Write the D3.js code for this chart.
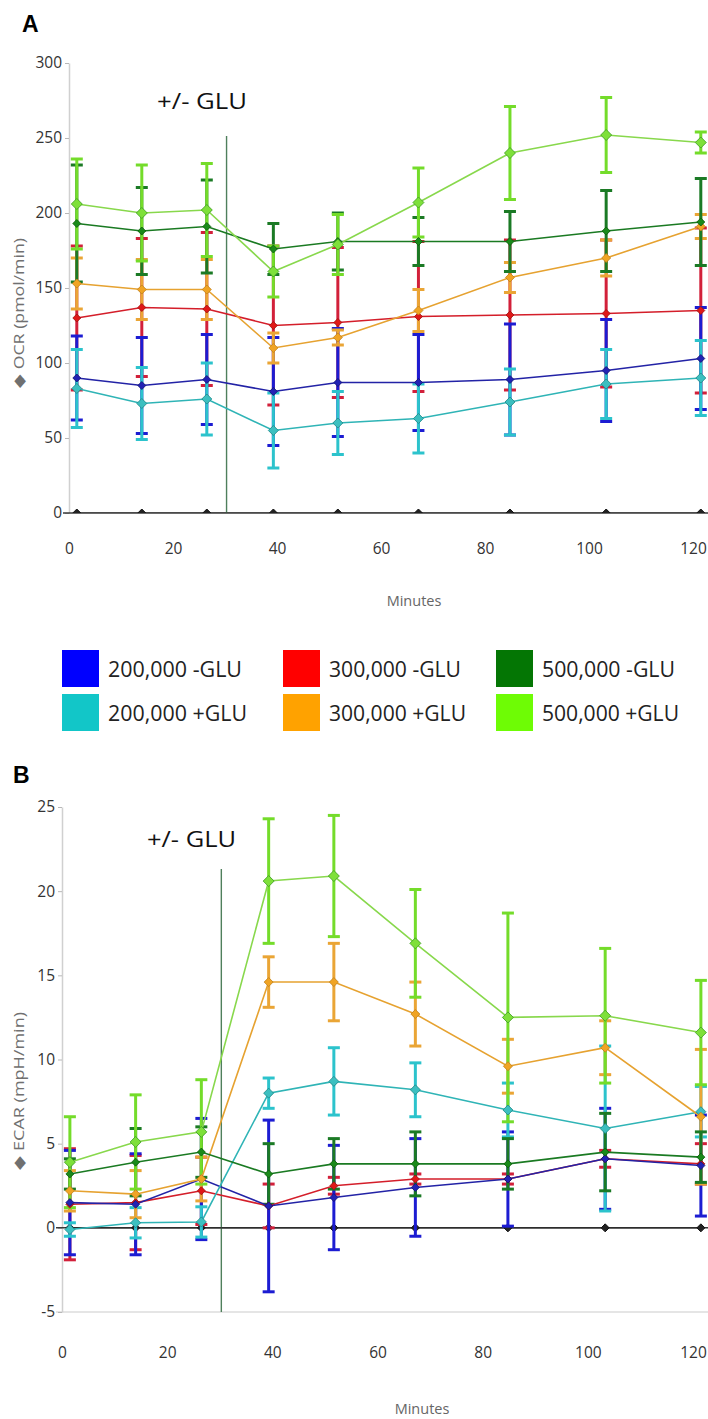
<!DOCTYPE html>
<html>
<head>
<meta charset="utf-8">
<script src="https://cdn.jsdelivr.net/npm/d3@7"></script>
<style>
  html, body { margin: 0; padding: 0; background: #fff; }
  svg { display: block; }
</style>
</head>
<body>
<script>
// ---------------- DATA ----------------
const timePoints = [1.5, 14, 26.5, 39.3, 51.7, 67.2, 84.8, 103.3, 121.5];
const injectionTime = 30.3;

const seriesNames = ["200,000 -GLU", "200,000 +GLU", "300,000 -GLU", "300,000 +GLU", "500,000 -GLU", "500,000 +GLU"];

// OCR (pmol/min) means and error half-widths
const ocr200Minus = [90, 85, 89, 81, 87, 87, 89, 95, 103];
const ocr200MinusErr = [28, 32, 30, 36, 36, 32, 37, 34, 34];
const ocr200Plus = [83, 73, 76, 55, 60, 63, 74, 86, 90];
const ocr200PlusErr = [26, 24, 24, 25, 21, 23, 22, 23, 25];
const ocr300Minus = [130, 137, 136, 125, 127, 131, 132, 133, 135];
const ocr300MinusErr = [48, 46, 51, 53, 50, 50, 50, 49, 55];
const ocr300Plus = [153, 149, 149, 110, 117, 135, 157, 170, 191];
const ocr300PlusErr = [17, 20, 20, 10, 5, 14, 10, 12, 8];
const ocr500Minus = [193, 188, 191, 176, 181, 181, 181, 188, 194];
const ocr500MinusErr = [39, 29, 31, 17, 19, 16, 20, 27, 29];
const ocr500Plus = [206, 200, 202, 161, 179, 207, 240, 252, 247];
const ocr500PlusErr = [30, 32, 31, 17, 20, 23, 31, 25, 7];
const ocrBackground = [0, 0, 0, 0, 0, 0, 0, 0, 0];

// ECAR (mpH/min) means and error half-widths
const ecar200Minus = [1.5, 1.4, 2.9, 1.3, 1.8, 2.4, 2.9, 4.1, 3.7];
const ecar200MinusErr = [3.1, 3.0, 3.6, 5.1, 3.1, 2.9, 2.8, 3.0, 3.0];
const ecar200Plus = [-0.1, 0.3, 0.35, 8.0, 8.7, 8.2, 7.0, 5.9, 6.9];
const ecar200PlusErr = [0.4, 0.9, 0.9, 0.9, 2.0, 1.6, 1.6, 4.9, 1.5];
const ecar300Minus = [1.4, 1.5, 2.2, 1.3, 2.5, 2.9, 2.9, 4.1, 3.8];
const ecar300MinusErr = [3.3, 2.8, 2.0, 1.3, 0.5, 0.3, 0.3, 0.5, 1.2];
const ecar300Plus = [2.2, 2.0, 2.9, 14.6, 14.6, 12.7, 9.6, 10.7, 6.6];
const ecar300PlusErr = [1.2, 1.4, 1.3, 1.5, 2.3, 1.9, 1.6, 1.6, 4.0];
const ecar500Minus = [3.2, 3.9, 4.5, 3.2, 3.8, 3.8, 3.8, 4.5, 4.2];
const ecar500MinusErr = [0.9, 2.0, 1.5, 1.8, 1.5, 1.9, 1.5, 2.3, 1.5];
const ecar500Plus = [3.9, 5.1, 5.7, 20.6, 20.9, 16.9, 12.5, 12.6, 11.6];
const ecar500PlusErr = [2.7, 2.8, 3.1, 3.7, 3.6, 3.2, 6.2, 4.0, 3.1];
const ecarBackground = [0, 0, 0, 0, 0, 0, 0, 0, 0];

const xTicks = [0, 20, 40, 60, 80, 100, 120];
const ocrTicks = [0, 50, 100, 150, 200, 250, 300];
const ecarTicks = [-5, 0, 5, 10, 15, 20, 25];

// ---------------- STYLES ----------------
const styles = [
  { legend: "#0000ff", line: "#2323a6", err: "#1c1cd2", fill: "#2222b4", stroke: "#10106e", r: 4 },
  { legend: "#12c6c8", line: "#2fb4b6", err: "#2cc3cc", fill: "#3cbfc0", stroke: "#1a8686", r: 5 },
  { legend: "#ff0000", line: "#d41e2a", err: "#d2203a", fill: "#e01818", stroke: "#9a1010", r: 4 },
  { legend: "#ffa200", line: "#e6a230", err: "#eaa535", fill: "#f0a424", stroke: "#c0801c", r: 4.5 },
  { legend: "#047604", line: "#1a7a22", err: "#1b7a25", fill: "#1a8a1a", stroke: "#0a5a0a", r: 4 },
  { legend: "#6efc05", line: "#88d84c", err: "#74dc2a", fill: "#7ee03a", stroke: "#3a9a20", r: 5.5 }
];

const W = 708, H = 1419;
const svg = d3.select("body").append("svg").attr("width", W).attr("height", H)
  .style("font-family", "'Open Sans', 'Noto Sans', sans-serif");

const diamond = r => `M0,${-r}L${r},0L0,${r}L${-r},0Z`;

function drawPanel(cfg) {
  const x = d3.scaleLinear().domain([0, 120]).range(cfg.xRange);
  const y = d3.scaleLinear().domain(cfg.yDomain).range(cfg.yRange);
  const g = svg.append("g");

  const clipId = "clip" + cfg.id;
  svg.append("clipPath").attr("id", clipId).append("rect")
    .attr("x", x(0)).attr("y", cfg.clipTop)
    .attr("width", W - x(0)).attr("height", cfg.clipBottom - cfg.clipTop);

  if (cfg.bottomBorder) {
    g.append("line").attr("x1", x(0) - 6).attr("x2", W)
      .attr("y1", y(cfg.yDomain[0])).attr("y2", y(cfg.yDomain[0]))
      .attr("stroke", "#dcdcdc").attr("stroke-width", 1.5);
  }

  const yAxis = g.append("g").attr("transform", `translate(${x(0)},0)`)
    .call(d3.axisLeft(y).tickValues(cfg.yTicks).tickFormat(d => String(d))
      .tickSize(4).tickPadding(3).tickSizeOuter(0));
  yAxis.select(".domain").attr("stroke", "#d0d0d0").attr("stroke-width", 1.5);
  yAxis.selectAll(".tick line").attr("stroke", "#b8b8b8");
  yAxis.selectAll(".tick text").attr("fill", "#333").style("font-size", "15.5px")
    .style("font-family", "'Open Sans', sans-serif");

  const xAxis = g.append("g").attr("transform", `translate(0,${cfg.xAxisY})`)
    .call(d3.axisBottom(x).tickValues(xTicks).tickFormat(d => String(d)).tickSize(0).tickPadding(cfg.xPad));
  xAxis.select(".domain").remove();
  xAxis.selectAll(".tick text").attr("fill", "#333").style("font-size", "15.5px")
    .style("font-family", "'Open Sans', sans-serif");

  g.append("line").attr("x1", x(0) - 6).attr("x2", W)
    .attr("y1", y(0)).attr("y2", y(0))
    .attr("stroke", "#3a3a3a").attr("stroke-width", 1.5);

  g.append("text").attr("x", cfg.xTitle[0]).attr("y", cfg.xTitle[1])
    .attr("text-anchor", "middle").attr("fill", "#666").style("font-size", "14.5px")
    .text("Minutes");
  g.append("text")
    .attr("transform", `translate(${cfg.yTitle[0]},${cfg.yTitle[1]}) rotate(-90)`)
    .attr("text-anchor", "start").attr("fill", "#707070").style("font-size", "15px")
    .attr("textLength", cfg.yTitle[2]).attr("lengthAdjust", "spacingAndGlyphs")
    .text(cfg.yLabel);

  g.append("line").attr("x1", x(injectionTime)).attr("x2", x(injectionTime))
    .attr("y1", cfg.injTop).attr("y2", y(cfg.yDomain[0]))
    .attr("stroke", "#4f7f5c").attr("stroke-width", 1.4);

  const plot = g.append("g").attr("clip-path", `url(#${clipId})`);

  plot.append("path").datum(cfg.background)
    .attr("d", d3.line().x((d, i) => x(timePoints[i])).y(d => y(d)))
    .attr("fill", "none").attr("stroke", "#2a2a2a").attr("stroke-width", 1.2);
  plot.selectAll(".bg").data(cfg.background).enter().append("path")
    .attr("transform", (d, i) => `translate(${x(timePoints[i])},${y(d)})`)
    .attr("d", diamond(4)).attr("fill", "#222").attr("stroke", "#111");

  const order = [2, 0, 1, 3, 4, 5];
  order.forEach(si => {
    const st = styles[si];
    const vals = cfg.means[si], errs = cfg.errs[si];
    const sg = plot.append("g");
    vals.forEach((v, i) => {
      const cx = x(timePoints[i]);
      const top = y(v + errs[i]), bot = y(v - errs[i]);
      sg.append("line").attr("x1", cx).attr("x2", cx).attr("y1", top).attr("y2", bot)
        .attr("stroke", st.err).attr("stroke-width", 3);
      [top, bot].forEach(yy => sg.append("line")
        .attr("x1", cx - 6).attr("x2", cx + 6).attr("y1", yy).attr("y2", yy)
        .attr("stroke", st.err).attr("stroke-width", 3));
    });
  });
  order.forEach(si => {
    const st = styles[si];
    plot.append("path").datum(cfg.means[si])
      .attr("d", d3.line().x((d, i) => x(timePoints[i])).y(d => y(d)))
      .attr("fill", "none").attr("stroke", st.line).attr("stroke-width", 1.6);
  });
  order.forEach(si => {
    const st = styles[si];
    plot.selectAll(null).data(cfg.means[si]).enter().append("path")
      .attr("transform", (d, i) => `translate(${x(timePoints[i])},${y(d)})`)
      .attr("d", diamond(st.r)).attr("fill", st.fill).attr("stroke", st.stroke).attr("stroke-width", 0.8);
  });

  svg.append("text").attr("x", cfg.letter[0]).attr("y", cfg.letter[1])
    .style("font-family", "'Liberation Sans', Arial, sans-serif").style("font-weight", "bold")
    .style("font-size", "23px").attr("fill", "#000").text(cfg.letterText);

  svg.append("text").attr("x", cfg.glu[0]).attr("y", cfg.glu[1])
    .style("font-family", "'Open Sans', sans-serif").style("font-size", "22px")
    .attr("fill", "#111").attr("textLength", cfg.glu[2]).attr("lengthAdjust", "spacingAndGlyphs")
    .text("+/- GLU");
}

drawPanel({
  id: "A", letterText: "A", letter: [22, 32], glu: [157, 109, 90],
  xRange: [69, 693], yDomain: [0, 300], yRange: [513, 63], yTicks: ocrTicks,
  clipTop: 40, clipBottom: 513, xAxisY: 513, xPad: 30, injTop: 136,
  xTitle: [414, 606], yTitle: [24, 388, 150], yLabel: "\u25C6 OCR (pmol/min)",
  bottomBorder: false, background: ocrBackground,
  means: [ocr200Minus, ocr200Plus, ocr300Minus, ocr300Plus, ocr500Minus, ocr500Plus],
  errs: [ocr200MinusErr, ocr200PlusErr, ocr300MinusErr, ocr300PlusErr, ocr500MinusErr, ocr500PlusErr]
});

drawPanel({
  id: "B", letterText: "B", letter: [13, 783], glu: [147, 847, 89],
  xRange: [62, 693], yDomain: [-5, 25], yRange: [1312, 807], yTicks: ecarTicks,
  clipTop: 790, clipBottom: 1313, xAxisY: 1312, xPad: 35, injTop: 869,
  xTitle: [422, 1414], yTitle: [24, 1170, 158], yLabel: "\u25C6 ECAR (mpH/min)",
  bottomBorder: true, background: ecarBackground,
  means: [ecar200Minus, ecar200Plus, ecar300Minus, ecar300Plus, ecar500Minus, ecar500Plus],
  errs: [ecar200MinusErr, ecar200PlusErr, ecar300MinusErr, ecar300PlusErr, ecar500MinusErr, ecar500PlusErr]
});

// ---------------- LEGEND ----------------
const legendCols = [62, 283, 496];
const legendRows = [650, 694];
const legendTextW = [134, 139, 132, 137, 133, 137];
const legend = svg.append("g");
seriesNames.forEach((name, i) => {
  const col = Math.floor(i / 2), row = i % 2;
  const lx = legendCols[col], ly = legendRows[row];
  legend.append("rect").attr("x", lx).attr("y", ly).attr("width", 37).attr("height", 37)
    .attr("fill", styles[i].legend);
  legend.append("text").attr("x", lx + 46).attr("y", ly + 27)
    .style("font-family", "'Open Sans', sans-serif").style("font-size", "22px")
    .attr("fill", "#222").attr("textLength", legendTextW[i]).attr("lengthAdjust", "spacingAndGlyphs")
    .text(name);
});
</script>
</body>
</html>
